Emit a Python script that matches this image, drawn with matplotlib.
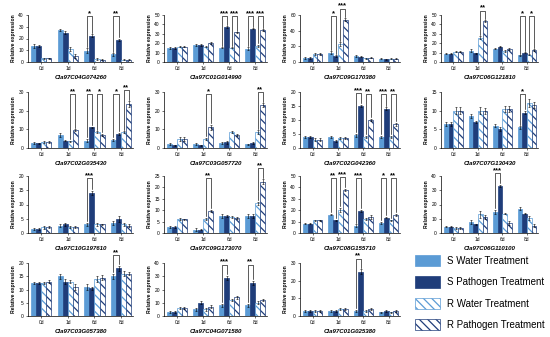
import matplotlib
matplotlib.use('Agg')
from matplotlib import pyplot as plt
from matplotlib.patches import Patch

plt.rcParams['font.family'] = ['Liberation Sans', 'DejaVu Sans']
plt.rcParams['hatch.linewidth'] = 0.9

days = ['0d', '1d', '6d', '8d']
treatments = ['S Water Treatment', 'S Pathogen Treatment', 'R Water Treatment', 'R Pathogen Treatment']

genes = ['Cla97C04G074260', 'Cla97C01G014990', 'Cla97C09G170380', 'Cla97C06G121810',
         'Cla97C02G035430', 'Cla97C03G057720', 'Cla97C02G042360', 'Cla97C07G130430',
         'Cla97C10G197610', 'Cla97C09G173070', 'Cla97C08G155710', 'Cla97C06G110100',
         'Cla97C03G057380', 'Cla97C04G071580', 'Cla97C01G025380']

ytop = [40, 50, 60, 50, 30, 30, 20, 15, 20, 25, 50, 40, 20, 40, 30]
ystep = [10, 10, 20, 10, 10, 10, 5, 5, 5, 5, 10, 10, 5, 10, 10]

# per gene: 4 days x [S water, S pathogen, R water, R pathogen]
expression = [
    [[13.5, 13.5, 3, 3], [27, 25, 11, 5], [9.5, 22.5, 2.5, 2], [6.5, 19, 2, 2]],
    [[15, 15, 16, 16], [18, 18, 16, 20], [15, 37, 15, 31.5], [14, 35.5, 17, 34]],
    [[5, 5, 10, 10], [12, 8, 23, 54], [7.5, 7, 4.5, 5.5], [4, 3.5, 4, 4]],
    [[9, 9, 11, 11], [12, 9.5, 26, 43.5], [14, 16, 12, 13.5], [7, 10, 7.5, 12.5]],
    [[2.5, 2.5, 3, 3], [7, 4, 3.5, 9.5], [4, 11, 8.5, 7], [4.5, 7.5, 8.5, 23.5]],
    [[2, 1.5, 5, 5], [2, 1.5, 5, 11], [2.5, 3, 8.5, 7], [2, 2.5, 8.5, 23]],
    [[4, 4, 3, 3], [4, 2.5, 3.5, 3.5], [4.5, 15, 4, 10], [4, 14, 4, 8.5]],
    [[6.5, 6.5, 10, 10], [8.5, 7, 10, 10], [6, 5, 10.5, 10.5], [5.5, 9.5, 12, 11.5]],
    [[1.5, 1.5, 2, 2], [2.5, 3, 2, 2], [3, 14, 3, 3], [3.5, 5, 3, 2.5]],
    [[2.5, 2.5, 6, 6], [1.5, 1.5, 6, 9.5], [7.5, 7.5, 7, 6.5], [7.5, 7.5, 13, 22.5]],
    [[8, 8, 11, 11], [16, 11, 20, 38], [6.5, 19, 12, 14], [9, 13.5, 11, 16]],
    [[4.5, 4.5, 3.5, 3.5], [7.5, 6, 13, 11], [14.5, 33, 13.5, 7], [17, 13.5, 10.5, 5]],
    [[12.5, 12.5, 12.5, 13], [15, 13, 13, 11], [11, 10.5, 14, 14.5], [15, 18, 16, 16]],
    [[3, 3, 6, 6], [5, 10, 5, 7], [8, 29, 12, 14], [8, 25, 10, 12]],
    [[3, 3, 3, 3], [3, 3, 4, 4], [3, 25, 3, 4], [2, 3, 2, 3]],
]

errors = [
    [[1.5, 1, 0.5, 0.5], [1, 1, 2, 1.5], [2, 1, 0.5, 0.3], [1, 1, 0.3, 0.3]],
    [[1, 1, 0.5, 0.5], [1, 1, 0.5, 1], [0.5, 1, 0.5, 0.5], [1.5, 0.5, 1.5, 1]],
    [[1, 1, 1, 1], [1.5, 1, 2, 2], [1, 0.5, 1, 0.5], [0.5, 0.5, 0.5, 0.5]],
    [[0.5, 0.5, 0.5, 0.5], [1.5, 0.5, 1.5, 1], [0.5, 0.5, 1, 1], [0.5, 0.5, 0.5, 1]],
    [[0.5, 0.3, 0.5, 0.5], [1, 0.5, 0.5, 0.5], [1, 0.5, 0.5, 0.5], [0.5, 0.5, 0.5, 1.5]],
    [[0.5, 0.3, 1, 1], [0.5, 0.3, 0.5, 1.5], [0.5, 0.8, 0.5, 0.5], [0.3, 0.5, 1, 1]],
    [[0.3, 0.3, 0.5, 0.5], [0.3, 0.3, 0.3, 0.3], [0.5, 0.5, 0.3, 0.5], [0.3, 0.5, 0.3, 0.5]],
    [[0.5, 0.5, 1, 1], [0.5, 0.3, 1, 0.8], [0.5, 0.5, 0.8, 0.8], [0.3, 0.5, 1, 0.8]],
    [[0.3, 0.3, 0.5, 0.3], [0.5, 0.5, 0.3, 0.3], [0.5, 0.8, 0.5, 0.3], [0.8, 1, 0.5, 0.5]],
    [[0.5, 0.5, 0.5, 0.3], [0.5, 0.3, 0.5, 0.5], [0.8, 0.5, 0.5, 0.5], [1, 1, 0.8, 1]],
    [[0.5, 0.5, 0.5, 0.5], [0.5, 0.5, 2, 1], [1, 1, 1, 1.5], [1, 0.5, 0.5, 1]],
    [[0.5, 0.5, 0.5, 0.5], [1.5, 0.5, 2.5, 1.5], [1.5, 1, 0.5, 1.5], [1, 0.5, 1.5, 1]],
    [[0.5, 0.5, 0.5, 0.5], [1, 1, 0.5, 1], [1, 0.5, 1, 1], [1, 1, 1, 0.5]],
    [[0.5, 0.5, 0.5, 0.5], [1, 1, 1, 1], [1, 1.5, 1, 1], [1, 1.5, 1, 1]],
    [[0.5, 0.5, 0.5, 0.5], [0.5, 0.5, 0.5, 0.5], [0.5, 1.5, 0.5, 0.5], [0.3, 0.5, 0.3, 0.5]],
]

# (day index, bar a, bar b, label)
signif = [
    [(2, 0, 1, '*'), (3, 0, 1, '**')],
    [(2, 0, 1, '***'), (2, 2, 3, '***'), (3, 0, 1, '***'), (3, 2, 3, '***')],
    [(1, 0, 1, '*'), (1, 2, 3, '***')],
    [(1, 2, 3, '**'), (3, 0, 1, '*'), (3, 2, 3, '*')],
    [(1, 2, 3, '**'), (2, 0, 1, '**'), (2, 2, 3, '*'), (3, 0, 1, '*'), (3, 2, 3, '**')],
    [(1, 2, 3, '*'), (3, 2, 3, '**')],
    [(2, 0, 1, '***'), (2, 2, 3, '**'), (3, 0, 1, '***'), (3, 2, 3, '**')],
    [(3, 0, 1, '*')],
    [(2, 0, 1, '***')],
    [(1, 2, 3, '**'), (3, 2, 3, '**')],
    [(1, 0, 1, '**'), (1, 2, 3, '***'), (2, 0, 1, '***'), (3, 0, 1, '*'), (3, 2, 3, '**')],
    [(2, 0, 1, '***')],
    [(3, 0, 1, '**')],
    [(2, 0, 1, '***'), (3, 0, 1, '**')],
    [(2, 0, 1, '**')],
]

light = '#5b9bd5'
dark = '#1f3d7a'
bar_face = [light, dark, 'white', 'white']
bar_edge = [light, dark, light, dark]
bar_hatch = [None, None, '\\\\\\\\', '\\\\\\\\']

W, H = 550, 337
col_left = [28, 164, 300, 441]
col_width = [105, 103, 100, 97]
row_top = [15, 92, 176, 263]
row_bottom = [62, 148, 233, 316]

fig = plt.figure(figsize=(5.5, 3.37), dpi=100)

offs = [-0.285, -0.095, 0.095, 0.285]
bw = 0.19

for k, gene in enumerate(genes):
    r, c = divmod(k, 4)
    ax = fig.add_axes([col_left[c] / W, 1 - row_bottom[r] / H,
                       col_width[c] / W, (row_bottom[r] - row_top[r]) / H])
    vals = expression[k]
    errs = errors[k]
    ymax = ytop[k]
    for j in range(4):
        xs = [g + offs[j] for g in range(4)]
        hs = [vals[g][j] for g in range(4)]
        es = [errs[g][j] for g in range(4)]
        ax.bar(xs, hs, width=bw, color=bar_face[j], edgecolor=bar_edge[j],
               hatch=bar_hatch[j], linewidth=0.5,
               yerr=es, error_kw=dict(elinewidth=0.4, capsize=0.8, capthick=0.4, ecolor='black'))
    for g, a, b, lab in signif[k]:
        xa, xb = g + offs[a], g + offs[b]
        ya = vals[g][a] + errs[g][a] + 0.03 * ymax
        yb = vals[g][b] + errs[g][b] + 0.03 * ymax
        top = max(max(ya, yb) + 0.17 * ymax, 0.97 * ymax)
        ax.plot([xa, xa, xb, xb], [ya, top, top, yb], color='black', lw=0.45, clip_on=False)
        ax.text((xa + xb) / 2, top - 0.02 * ymax, lab, ha='center', va='bottom',
                fontsize=5.5, fontweight='bold', clip_on=False)
    ax.set_xlim(-0.5, 3.45)
    ax.set_ylim(0, ymax)
    ax.set_yticks(range(0, ymax + 1, ystep[k]))
    ax.set_xticks(range(4))
    ax.set_xticklabels(days)
    ax.tick_params(labelsize=3.5, length=1.5, width=0.4, pad=1.5)
    for s in ['top', 'right']:
        ax.spines[s].set_visible(False)
    for s in ['left', 'bottom']:
        ax.spines[s].set_linewidth(0.5)
    ax.set_ylabel('Relative expression', fontsize=3.6, fontweight='bold', labelpad=2)
    ax.set_xlabel(gene, fontsize=4.4, fontweight='bold', fontstyle='italic', labelpad=2.5)

handles = [Patch(facecolor=bar_face[j], edgecolor=bar_edge[j], hatch=bar_hatch[j], linewidth=0.5)
           for j in range(4)]
fig.legend(handles, treatments, loc='upper left', bbox_to_anchor=(410 / W, 1 - 250 / H),
           frameon=False, fontsize=7, handlelength=2.6, handleheight=1.4,
           labelspacing=1.05, handletextpad=0.7, borderpad=0)

fig.savefig('out.png', dpi=100)
